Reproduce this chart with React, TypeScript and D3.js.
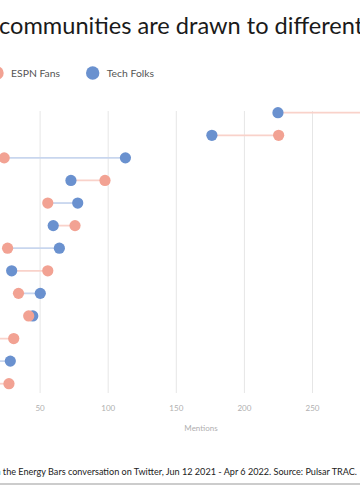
import React, { useRef, useEffect } from 'react';
import * as d3 from 'd3';

// rows are ordered top to bottom; their labels sit outside the visible crop
const rows = ['r1', 'r2', 'r3', 'r4', 'r5', 'r6', 'r7', 'r8', 'r9', 'r10', 'r11', 'r12', 'r13'];
const espnFans = [310, 225.5, 24, 98, 56, 76, 26.5, 56, 34.5, 42, 31, 5, 27.5];
const techFolks = [225, 176.5, 113, 73, 78, 60, 64.5, 29.5, 50.5, 45, 5, 28.5, 5];
const tickValues = [50, 100, 150, 200, 250];
const seriesNames = ['ESPN Fans', 'Tech Folks'];

const PINK = '#f2a293';
const BLUE = '#6a91cf';
const PINK_LINE = '#f9d2ca';
const BLUE_LINE = '#c8d6ee';
const FONT = 'Lato, "Open Sans", sans-serif';

const App = () => {
    const ref = useRef(null);

    useEffect(() => {
        if (!ref.current) return;
        const svg = d3.select(ref.current);
        svg.selectAll('*').remove();

        const top = 111, bottom = 393;
        const x = d3.scaleLinear().domain([0, 337]).range([-28.5, 430.5]);
        const y = d3.scalePoint().domain(rows).range([112.7, 383.7]);

        svg.append('rect').attr('width', 360).attr('height', 500).attr('fill', '#fff');

        // title
        svg.append('text')
            .attr('x', -1)
            .attr('y', 34)
            .attr('font-family', FONT)
            .attr('font-size', 23.6)
            .attr('fill', '#1a1a1a')
            .text('communities are drawn to different');

        // legend
        const legendX = [-3, 92.7];
        seriesNames.forEach((name, i) => {
            svg.append('circle')
                .attr('cx', legendX[i])
                .attr('cy', 73)
                .attr('r', 6.7)
                .attr('fill', i === 0 ? PINK : BLUE);
            svg.append('text')
                .attr('x', legendX[i] + 14)
                .attr('y', 76.5)
                .attr('font-family', FONT)
                .attr('font-size', 10.4)
                .attr('fill', '#555')
                .text(name);
        });

        // axis + gridlines
        const axis = svg.append('g')
            .attr('transform', `translate(0,${bottom})`)
            .call(d3.axisBottom(x).tickValues(tickValues).tickSize(-(bottom - top)).tickPadding(12).tickFormat(d3.format('d')));
        axis.select('.domain').remove();
        axis.selectAll('.tick line').attr('stroke', '#e6e6e6');
        axis.selectAll('.tick text')
            .attr('fill', '#b0b0b0')
            .attr('font-family', FONT)
            .attr('font-size', 8);

        svg.append('text')
            .attr('x', (x.range()[0] + x.range()[1]) / 2)
            .attr('y', 431)
            .attr('text-anchor', 'middle')
            .attr('font-family', FONT)
            .attr('font-size', 8)
            .attr('fill', '#b0b0b0')
            .text('Mentions');

        // connecting lines
        svg.selectAll('line.link')
            .data(rows)
            .enter()
            .append('line')
            .attr('class', 'link')
            .attr('x1', (d, i) => x(espnFans[i]))
            .attr('x2', (d, i) => x(techFolks[i]))
            .attr('y1', d => y(d))
            .attr('y2', d => y(d))
            .attr('stroke', (d, i) => espnFans[i] > techFolks[i] ? PINK_LINE : BLUE_LINE)
            .attr('stroke-width', 1.8);

        svg.selectAll('circle.tech')
            .data(rows)
            .enter()
            .append('circle')
            .attr('class', 'tech')
            .attr('cx', (d, i) => x(techFolks[i]))
            .attr('cy', d => y(d))
            .attr('r', 5.6)
            .attr('fill', BLUE);

        svg.selectAll('circle.espn')
            .data(rows)
            .enter()
            .append('circle')
            .attr('class', 'espn')
            .attr('cx', (d, i) => x(espnFans[i]))
            .attr('cy', d => y(d))
            .attr('r', 5.6)
            .attr('fill', PINK);

        // footnote
        svg.append('text')
            .attr('x', 357)
            .attr('y', 474.5)
            .attr('text-anchor', 'end')
            .attr('font-family', FONT)
            .attr('font-size', 9.1)
            .attr('fill', '#222')
            .text('in the Energy Bars conversation on Twitter, Jun 12 2021 - Apr 6 2022. Source: Pulsar TRAC.');

        svg.append('line')
            .attr('x1', 0)
            .attr('x2', 360)
            .attr('y1', 484)
            .attr('y2', 484)
            .attr('stroke', '#999')
            .attr('stroke-width', 1);
    }, []);

    return (
        <svg
            ref={ref}
            width={360}
            height={500}
            style={{ position: 'absolute', left: 0, top: 0 }}
        />
    );
};

export default App;
